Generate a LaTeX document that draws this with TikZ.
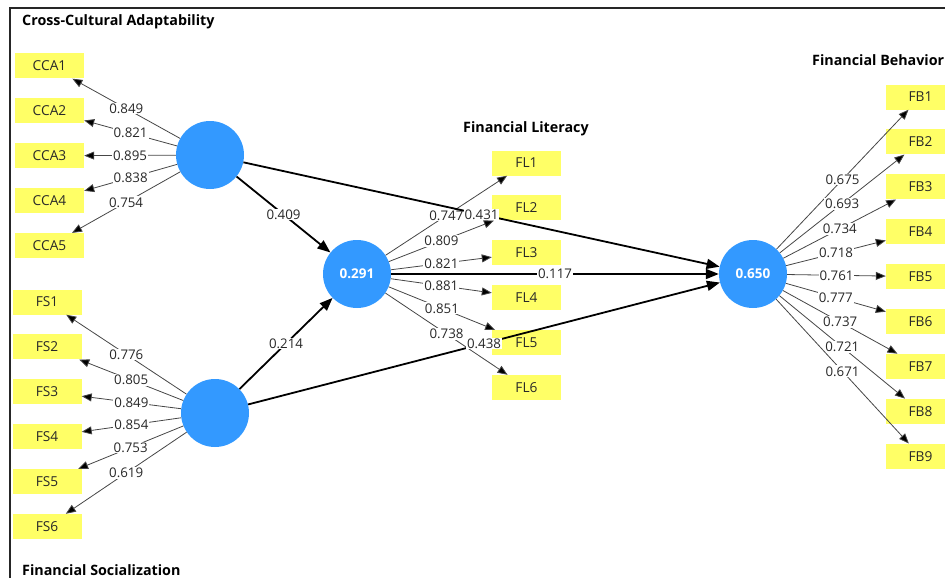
\documentclass[tikz,border=0pt]{standalone}
\usepackage{fontspec}
\setmainfont{Open Sans}
\usepackage{tikz}
\usetikzlibrary{%
  arrows.meta,%
  positioning% wg. " of "
}
\definecolor{plsblue}{RGB}{51,153,255}
\definecolor{plsyellow}{RGB}{255,255,102}
\definecolor{txtgray}{RGB}{40,40,40}
\definecolor{loadgray}{RGB}{70,70,70}

\tikzset{
  latent/.style={circle,fill=plsblue,minimum size=68pt,inner sep=0pt,text=white,font=\fontsize{13.5}{15}\selectfont\bfseries},
  item/.style={rectangle,fill=plsyellow,minimum width=69pt,minimum height=25pt,inner sep=0pt,text=txtgray,font=\fontsize{13.7}{15}\selectfont},
  lbl/.style={fill=white,inner sep=1pt,text=txtgray,font=\fontsize{13.3}{15}\selectfont},
  title/.style={anchor=west,inner sep=0pt,text=black,font=\fontsize{14.3}{16}\selectfont\bfseries},
  load/.style={-{Triangle[length=10pt,width=8pt]},draw=loadgray,line width=0.8pt},
  struct/.style={-{Triangle[length=13pt,width=10pt]},draw=black,line width=1.8pt}
}

\begin{document}
\begin{tikzpicture}[x=1pt,y=-1pt,node distance=19.5pt]
    \useasboundingbox (0,0) rectangle (945,578);
    \clip (0,0) rectangle (945,578);
    \draw[line width=1.6pt,draw=black!85] (10,8) rectangle (980,620);

    %titles
    \node[title] (t_cca) at (22,22) {Cross-Cultural Adaptability};
    \node[title] (t_fs) at (22,570) {Financial Socialization};
    \node[title] (t_fl) at (463,129) {Financial Literacy};
    \node[title] (t_fb) at (812,60) {Financial Behavior};

    %latent variables
    \node[latent] (cca) at (210,155) {};
    \node[latent] (fs) at (215,413) {};
    \node[latent] (fl) at (357,274) {0.291};
    \node[latent] (fb) at (753,274) {0.650};

    %CCA items
    \node[item] (cca1) at (49.5,66) {CCA1};
    \node[item] (cca2) [below =of cca1] {CCA2};
    \node[item] (cca3) [below =of cca2] {CCA3};
    \node[item] (cca4) [below =of cca3] {CCA4};
    \node[item] (cca5) [below =of cca4] {CCA5};

    %FS items
    \node[item] (fs1) at (47,302) {FS1};
    \node[item] (fs2) [below =of fs1] {FS2};
    \node[item] (fs3) [below =of fs2] {FS3};
    \node[item] (fs4) [below =of fs3] {FS4};
    \node[item] (fs5) [below =of fs4] {FS5};
    \node[item] (fs6) [below =of fs5] {FS6};

    %FL items
    \node[item] (fl1) at (526.5,163) {FL1};
    \node[item] (fl2) [below =of fl1] {FL2};
    \node[item] (fl3) [below =of fl2] {FL3};
    \node[item] (fl4) [below =of fl3] {FL4};
    \node[item] (fl5) [below =of fl4] {FL5};
    \node[item] (fl6) [below =of fl5] {FL6};

    %FB items
    \node[item] (fb1) at (920.5,97) {FB1};
    \node[item] (fb2) [below =of fb1] {FB2};
    \node[item] (fb3) [below =of fb2] {FB3};
    \node[item] (fb4) [below =of fb3] {FB4};
    \node[item] (fb5) [below =of fb4] {FB5};
    \node[item] (fb6) [below =of fb5] {FB6};
    \node[item] (fb7) [below =of fb6] {FB7};
    \node[item] (fb8) [below =of fb7] {FB8};
    \node[item] (fb9) [below =of fb8] {FB9};

    %loadings CCA
    \path[load]
    (cca) edge node[lbl] {0.849} (cca1)
    (cca) edge node[lbl] {0.821} (cca2)
    (cca) edge node[lbl] {0.895} (cca3)
    (cca) edge node[lbl] {0.838} (cca4)
    (cca) edge node[lbl] {0.754} (cca5);

    %loadings FS
    \path[load]
    (fs) edge node[lbl] {0.776} (fs1)
    (fs) edge node[lbl] {0.805} (fs2)
    (fs) edge node[lbl] {0.849} (fs3)
    (fs) edge node[lbl] {0.854} (fs4)
    (fs) edge node[lbl] {0.753} (fs5)
    (fs) edge node[lbl] {0.619} (fs6);

    %loadings FL
    \path[load]
    (fl) edge node[lbl] {0.747} (fl1)
    (fl) edge node[lbl] {0.809} (fl2)
    (fl) edge node[lbl] {0.821} (fl3)
    (fl) edge node[lbl] {0.881} (fl4)
    (fl) edge node[lbl] {0.851} (fl5)
    (fl) edge node[lbl] {0.738} (fl6);

    %loadings FB
    \path[load]
    (fb) edge node[lbl] {0.675} (fb1)
    (fb) edge node[lbl] {0.693} (fb2)
    (fb) edge node[lbl] {0.734} (fb3)
    (fb) edge node[lbl] {0.718} (fb4)
    (fb) edge node[lbl] {0.761} (fb5)
    (fb) edge node[lbl] {0.777} (fb6)
    (fb) edge node[lbl] {0.737} (fb7)
    (fb) edge node[lbl] {0.721} (fb8)
    (fb) edge node[lbl] {0.671} (fb9);

    %inner model
    \path[struct]
    (cca) edge node[lbl] {0.409} (fl)
    (fs) edge node[lbl] {0.214} (fl)
    (cca) edge node[lbl] {0.431} (fb)
    (fl) edge node[lbl] {0.117} (fb)
    (fs) edge node[lbl] {0.438} (fb);
\end{tikzpicture}
\end{document}
